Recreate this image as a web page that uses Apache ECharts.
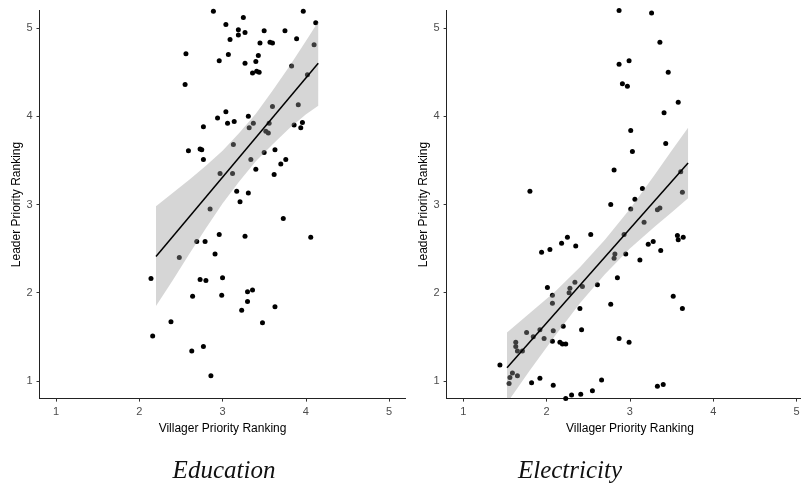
<!DOCTYPE html>
<html>
<head>
<meta charset="utf-8">
<title>Leader vs villager priority ranking</title>
<script src="https://cdn.jsdelivr.net/npm/echarts/dist/echarts.min.js"></script>
</head>
<body style="margin:0;background:#fff;overflow:hidden">
<!-- the right panel runs past the window edge, as in the cropped figure -->
<div id="main" style="width:830px;height:487px"></div>
<script>
// tick positions (both axes, both panels)
var tickVals = [1, 2, 3, 4, 5];
var panelNames = ['Education', 'Electricity'];

// Education panel: villager (x) vs leader (y)
var eduX = [2.89,3.97,3.25,4.12,3.04,3.19,3.19,3.27,3.50,3.75,
            3.09,3.89,3.45,3.57,3.60,4.10,2.56,3.07,3.43,2.96,
            3.40,3.27,3.83,3.41,3.44,3.36,4.02,2.55,3.60,3.91,
            3.04,2.94,3.31,3.06,3.14,3.37,3.56,2.77,3.32,3.86,
            3.96,3.94,3.52,3.55,3.13,2.59,2.73,2.75,3.50,3.63,
            2.77,3.34,3.76,3.70,3.40,2.97,3.12,3.62,3.17,3.31,
            3.21,2.85,3.73,2.96,3.27,4.06,2.69,2.79,2.48,2.91,
            2.14,2.73,2.80,3.00,2.64,2.99,3.30,3.36,3.30,3.63,
            3.23,2.38,3.48,2.16,2.63,2.77,2.86];
var eduY = [5.19,5.19,5.12,5.06,5.04,4.98,4.92,4.95,4.97,4.97,
            4.87,4.88,4.83,4.84,4.83,4.81,4.71,4.70,4.69,4.63,
            4.62,4.60,4.57,4.51,4.50,4.49,4.47,4.36,4.11,4.13,
            4.05,3.98,4.00,3.92,3.94,3.92,3.92,3.88,3.87,3.90,
            3.93,3.87,3.83,3.81,3.68,3.61,3.63,3.62,3.59,3.62,
            3.51,3.51,3.51,3.46,3.40,3.35,3.35,3.34,3.15,3.13,
            3.03,2.95,2.84,2.66,2.64,2.63,2.58,2.58,2.40,2.44,
            2.16,2.15,2.14,2.17,1.96,1.97,2.01,2.03,1.90,1.84,
            1.80,1.67,1.66,1.51,1.34,1.39,1.06];
var eduFitX = [2.2, 4.15];
var eduFitY = [2.41, 4.60];
var eduBandX  = [2.2, 2.4, 2.6, 2.8, 3.0, 3.2, 3.4, 3.6, 3.8, 4.0, 4.15];
var eduBandLo = [1.85,2.14,2.44,2.73,3.01,3.26,3.49,3.68,3.86,4.02,4.12];
var eduBandHi = [2.98,3.13,3.28,3.44,3.61,3.81,4.03,4.29,4.56,4.85,5.07];

// Electricity panel
var elecX = [2.87,3.26,3.36,2.87,2.99,3.46,2.91,2.97,3.58,3.41,
             3.01,3.43,3.03,3.61,2.81,1.80,3.15,3.63,2.77,3.06,
             3.01,3.33,3.36,3.17,2.53,2.93,2.25,2.18,2.35,3.57,
             3.58,3.64,3.22,3.28,1.94,2.04,2.82,2.81,2.95,3.37,
             3.12,2.85,2.34,2.28,2.27,2.43,2.61,2.01,2.07,2.07,
             2.77,2.40,3.52,3.63,2.20,1.92,1.76,1.84,2.08,1.97,
             2.42,2.07,2.16,2.19,2.23,2.87,2.99,1.63,1.63,1.65,
             1.71,1.44,1.59,1.56,1.65,1.55,1.82,1.92,2.08,2.66,
             3.33,3.40,2.55,2.41,2.30,2.23];
var elecY = [5.20,5.17,4.84,4.59,4.63,4.50,4.37,4.34,4.16,4.04,
             3.84,3.69,3.60,3.37,3.39,3.15,3.18,3.14,3.00,3.06,
             2.95,2.94,2.96,2.80,2.66,2.66,2.63,2.56,2.53,2.65,
             2.60,2.63,2.55,2.58,2.46,2.49,2.44,2.39,2.44,2.48,
             2.37,2.17,2.12,2.05,2.00,2.07,2.09,2.06,1.97,1.88,
             1.87,1.82,1.96,1.82,1.62,1.58,1.55,1.50,1.57,1.48,
             1.58,1.45,1.44,1.42,1.42,1.48,1.44,1.44,1.39,1.34,
             1.34,1.18,1.09,1.04,1.06,0.97,0.98,1.03,0.95,1.01,
             0.94,0.96,0.89,0.85,0.84,0.80];
var elecFitX = [1.525, 3.698];
var elecFitY = [1.15, 3.47];
var elecBandX  = [1.525,1.8, 2.1, 2.4, 2.7, 3.0, 3.3, 3.5, 3.698];
var elecBandLo = [0.75, 1.12,1.51,1.88,2.21,2.50,2.75,2.91,3.07];
var elecBandHi = [1.55, 1.77,2.01,2.29,2.60,2.95,3.34,3.61,3.87];

function zip(a, b) {
    return a.map(function (v, i) { return [v, b[i]]; });
}

function makeAxis(idx, name, isX) {
    return {
        type: 'value',
        gridIndex: idx,
        min: 0.8,
        max: 5.2,
        name: name,
        nameLocation: 'middle',
        nameGap: isX ? 18 : 12,
        nameTextStyle: {color: '#000', fontSize: 12, fontFamily: 'Liberation Sans'},
        axisLine: {show: true, onZero: false, lineStyle: {color: '#222', width: 1}},
        axisTick: {show: true, length: 3, lineStyle: {color: '#333'}, customValues: tickVals},
        axisLabel: {color: '#4d4d4d', fontSize: 11, margin: isX ? 8 : 7,
                    fontFamily: 'Liberation Sans', customValues: tickVals},
        splitLine: {show: false}
    };
}

function bandSeries(idx, xs, lo, hi) {
    return {
        type: 'custom',
        xAxisIndex: idx,
        yAxisIndex: idx,
        z: 3,
        silent: true,
        clip: true,
        data: xs.map(function (x, i) { return [x, lo[i], hi[i]]; }),
        encode: {x: 0, y: [1, 2]},
        renderItem: function (params, api) {
            if (params.dataIndex !== 0) return;
            var pts = [];
            for (var i = 0; i < xs.length; i++) pts.push(api.coord([xs[i], hi[i]]));
            for (var j = xs.length - 1; j >= 0; j--) pts.push(api.coord([xs[j], lo[j]]));
            var cs = params.coordSys;
            return {
                type: 'polygon',
                shape: {points: pts},
                clipPath: {type: 'rect', shape: {x: cs.x, y: cs.y, width: cs.width, height: cs.height}},
                style: {fill: 'rgba(153,153,153,0.4)'}
            };
        }
    };
}

function pointSeries(idx, xs, ys) {
    return {
        type: 'scatter', xAxisIndex: idx, yAxisIndex: idx, z: 2,
        symbolSize: 5, clip: true,
        itemStyle: {color: '#000', opacity: 1},
        data: zip(xs, ys)
    };
}

function fitSeries(idx, xs, ys) {
    return {
        type: 'line', xAxisIndex: idx, yAxisIndex: idx, z: 4,
        symbol: 'none', silent: true,
        lineStyle: {color: '#000', width: 1.5},
        data: zip(xs, ys)
    };
}

var myChart = echarts.init(document.getElementById('main'));
myChart.setOption({
    animation: false,
    backgroundColor: '#fff',
    grid: [
        {left: 39.5, top: 10.4, width: 366.1, height: 388.2},
        {left: 446.6, top: 10.4, width: 366.6, height: 388.2}
    ],
    xAxis: [makeAxis(0, 'Villager Priority Ranking', true), makeAxis(1, 'Villager Priority Ranking', true)],
    yAxis: [makeAxis(0, 'Leader Priority Ranking', false), makeAxis(1, 'Leader Priority Ranking', false)],
    graphic: [
        {type: 'text', x: 224, y: 471, style: {text: panelNames[0], align: 'center', verticalAlign: 'middle',
            font: 'italic 25px "Liberation Serif"', fill: '#111'}},
        {type: 'text', x: 570, y: 471, style: {text: panelNames[1], align: 'center', verticalAlign: 'middle',
            font: 'italic 25px "Liberation Serif"', fill: '#111'}}
    ],
    series: [
        pointSeries(0, eduX, eduY),
        bandSeries(0, eduBandX, eduBandLo, eduBandHi),
        fitSeries(0, eduFitX, eduFitY),
        pointSeries(1, elecX, elecY),
        bandSeries(1, elecBandX, elecBandLo, elecBandHi),
        fitSeries(1, elecFitX, elecFitY)
    ]
});
</script>
</body>
</html>
